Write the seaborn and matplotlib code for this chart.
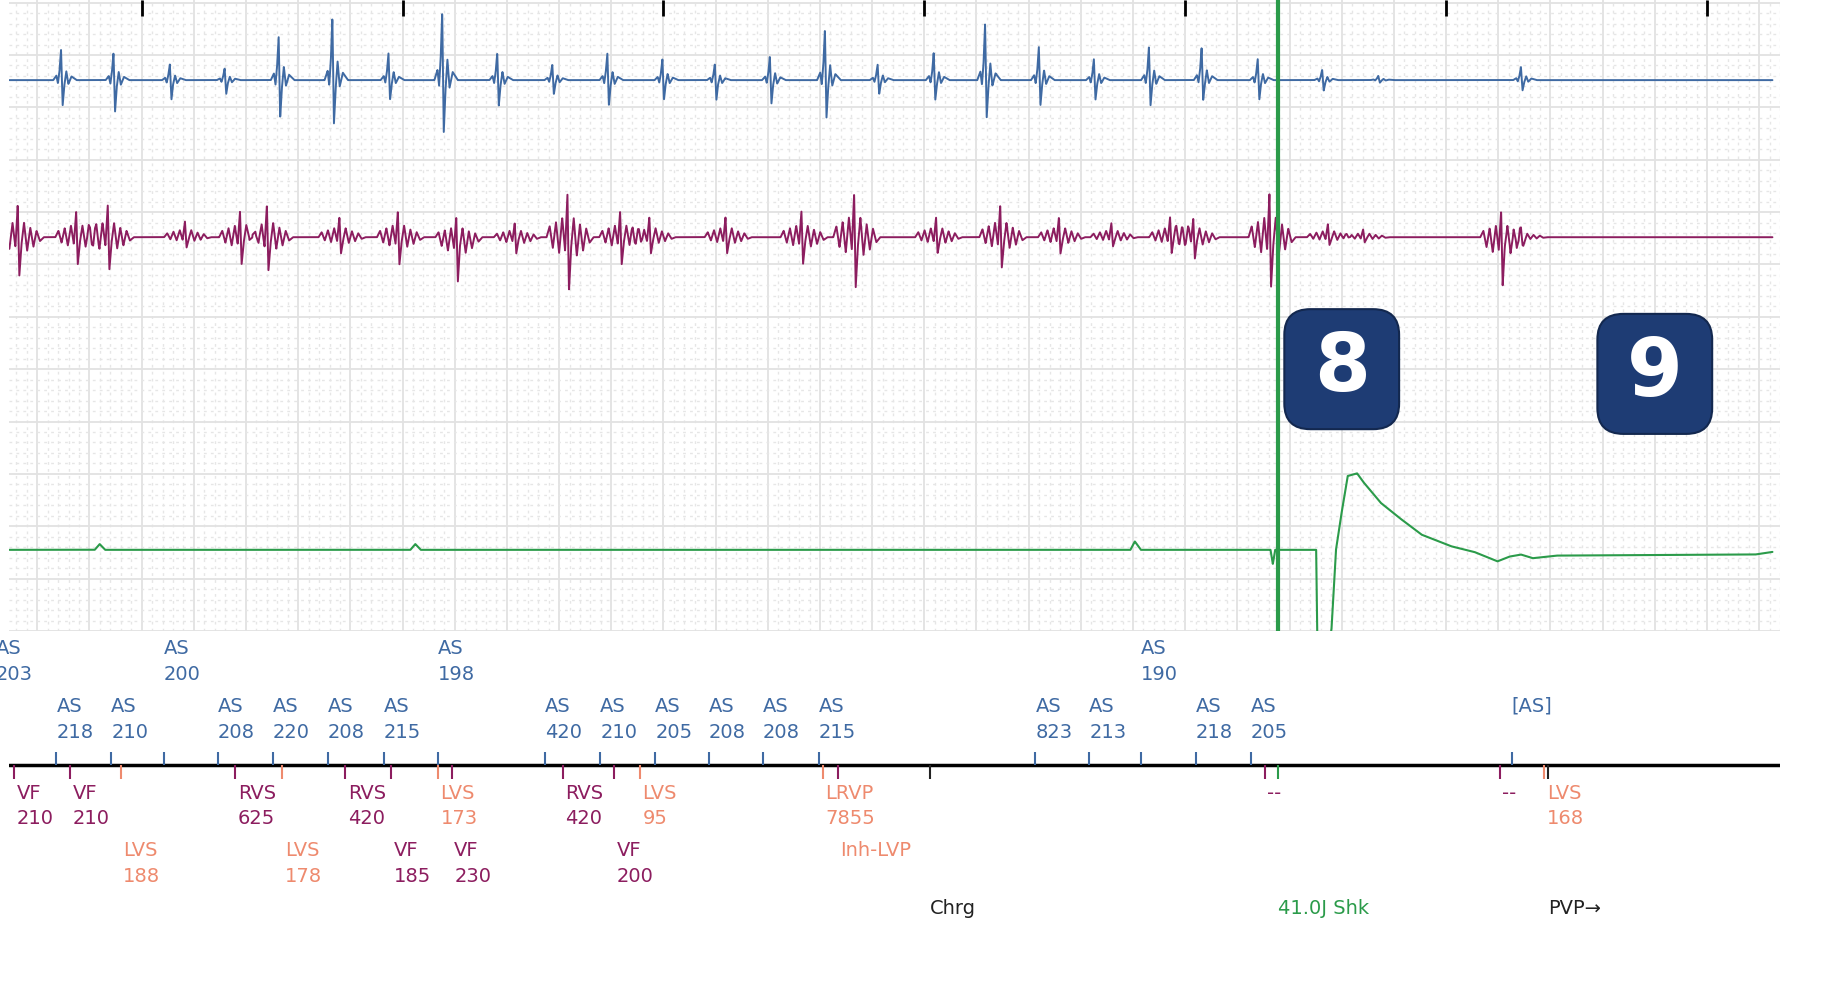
import numpy as np
import matplotlib
matplotlib.use("Agg")
import matplotlib.pyplot as plt
import seaborn as sns
from matplotlib.patches import FancyBboxPatch

sns.set_theme(style="white")
plt.rcParams['font.family'] = ['DejaVu Sans']

# ---------------- data ----------------
XLIM = (0.493, 7.251)
second_ticks = [1, 2, 3, 4, 5, 6, 7]

# atrial channel (blue): beat time (s), up amplitude, down amplitude
blue_t = [0.691, 0.892, 1.108, 1.318, 1.525, 1.731, 1.946, 2.152, 2.363, 2.574, 2.785, 2.996,
          3.197, 3.408, 3.619, 3.821, 4.036, 4.233, 4.439, 4.650, 4.861, 5.063, 5.278, 5.525,
          5.740, 6.287]
blue_up = [0.58, 0.52, 0.30, 0.22, 0.85, 1.19, 0.52, 1.30, 0.52, 0.30, 0.52, 0.40,
           0.30, 0.45, 0.96, 0.30, 0.52, 1.08, 0.63, 0.40, 0.63, 0.63, 0.40, 0.20,
           0.08, 0.25]
blue_dn = [0.49, 0.60, 0.38, 0.27, 0.72, 0.83, 0.38, 0.99, 0.49, 0.27, 0.49, 0.38,
           0.38, 0.45, 0.72, 0.27, 0.38, 0.72, 0.49, 0.38, 0.49, 0.38, 0.38, 0.20,
           0.05, 0.20]

# ventricular channel (purple)
purple_t = [0.525, 0.749, 0.870, 1.166, 1.377, 1.480, 1.758, 1.982, 2.206, 2.430, 2.632, 2.834,
            2.946, 3.238, 3.529, 3.731, 4.045, 4.291, 4.516, 4.717, 4.942, 5.031, 5.323, 5.547,
            5.682, 6.211, 6.287]
purple_up = [0.61, 0.49, 0.61, 0.30, 0.49, 0.61, 0.38, 0.49, 0.38, 0.27, 0.83, 0.49,
             0.38, 0.38, 0.49, 0.83, 0.38, 0.61, 0.38, 0.27, 0.38, 0.38, 0.83, 0.25,
             0.15, 0.49, 0.15]
purple_dn = [0.74, 0.52, 0.63, 0.20, 0.52, 0.63, 0.31, 0.52, 0.85, 0.31, 1.03, 0.52,
             0.31, 0.31, 0.52, 0.96, 0.31, 0.58, 0.31, 0.18, 0.31, 0.40, 0.96, 0.15,
             0.10, 0.96, 0.10]

# shock / far-field channel (green): time (s), deflection
green_t = [0.493, 0.82, 0.839, 0.86, 2.03, 2.049, 2.07, 4.79, 4.807, 4.83, 5.327, 5.336,
           5.345, 5.502, 5.507, 5.547, 5.561, 5.578, 5.596, 5.623, 5.659, 5.682, 5.749,
           5.816, 5.906, 6.018, 6.108, 6.197, 6.242, 6.287, 6.332, 6.422, 7.184, 7.251]
green_v = [0.0, 0.0, 0.11, 0.0, 0.0, 0.11, 0.0, 0.0, 0.16, 0.0, 0.0, -0.27,
           0.0, 0.0, -2.0, -2.0, -1.5, 0.0, 0.6, 1.41, 1.46, 1.30, 0.90,
           0.63, 0.29, 0.07, -0.04, -0.22, -0.13, -0.09, -0.16, -0.11, -0.09, -0.04]

shock_time = 5.354

# marker channel: atrial sense events above the line
as_t = [0.44, 0.673, 0.883, 1.085, 1.291, 1.502, 1.713, 1.928, 2.135, 2.547, 2.758, 2.969,
        3.175, 3.381, 3.596, 4.426, 4.632, 4.830, 5.040, 5.251, 6.251]
as_lbl = ["AS", "AS", "AS", "AS", "AS", "AS", "AS", "AS", "AS", "AS", "AS", "AS",
          "AS", "AS", "AS", "AS", "AS", "AS", "AS", "AS", "[AS]"]
as_val = ["203", "218", "210", "200", "208", "220", "208", "215", "198", "420", "210", "205",
          "208", "208", "215", "823", "213", "190", "218", "205", ""]
as_row = [0, 1, 1, 0, 1, 1, 1, 1, 0, 1, 1, 1, 1, 1, 1, 1, 1, 0, 1, 1, 1]

# ventricular events below the line
v_t = [0.511, 0.726, 0.919, 1.359, 1.538, 1.780, 1.955, 2.135, 2.188, 2.614, 2.812, 2.910,
       3.610, 3.668, 5.305, 6.206, 6.377]
v_lbl = ["VF", "VF", "LVS", "RVS", "LVS", "RVS", "VF", "LVS", "VF", "RVS", "VF", "LVS",
         "LRVP", "Inh-LVP", "--", "--", "LVS"]
v_val = ["210", "210", "188", "625", "178", "420", "185", "173", "230", "420", "200", "95",
         "7855", "", "", "", "168"]
v_row = [0, 0, 1, 0, 1, 0, 1, 0, 1, 0, 1, 0, 0, 1, 0, 0, 0]
v_kind = ["p", "p", "o", "p", "o", "p", "p", "o", "p", "p", "p", "o", "o", "o", "p", "p", "o"]
v_tick_kind = ["p", "p", "o", "p", "o", "p", "p", "o", "p", "p", "p", "o", "o", "p", "p", "p", "o"]

# device events (third row)
dev_t = [4.022, 5.354, 6.390]
dev_lbl = ["Chrg", "41.0J Shk", "PVP\u2192"]
dev_kind = ["k", "g", "k"]

badge_t = [5.60, 6.80]
badge_lbl = ["8", "9"]

# ---------------- style ----------------
BLUE = "#3f6aa3"
PURPLE = "#8c1d5f"
ORANGE = "#ee8a6e"
GREEN = "#2b9b4a"
NAVY = "#1e3c74"
COL = {"p": PURPLE, "o": ORANGE, "k": "#222222", "g": GREEN, "b": BLUE}

W, H = 1827, 1008
fig = plt.figure(figsize=(W / 100, H / 100), dpi=100)
fig.patch.set_facecolor("white")

ax = fig.add_axes([9.4 / W, 1 - 631 / H, (1780 - 9.4) / W, 631 / H])
axm = fig.add_axes([9.4 / W, 0.0, (1780 - 9.4) / W, (H - 631) / H], sharex=ax)

t = np.linspace(XLIM[0], XLIM[1], 14000)

def build(times, ups, dns, offs, shape_up, shape_dn):
    y = np.zeros_like(t)
    for bt, u, d in zip(times, ups, dns):
        shp = np.array(shape_up) * u + np.array(shape_dn) * d
        y += np.interp(t, bt + np.array(offs), shp, left=0, right=0)
    return y

b_offs = [-0.03, -0.018, -0.012, -0.006, 0.0, 0.006, 0.012, 0.02, 0.028, 0.04, 0.052, 0.06]
b_up = [0, 0.15, 0, 0.3, 1.0, 0, 0, 0.3, 0, 0.12, 0.05, 0]
b_dn = [0, 0, -0.12, 0, 0, -1.0, -0.25, 0, -0.15, 0, 0, 0]
blue = -1.48 + build(blue_t, blue_up, blue_dn, b_offs, b_up, b_dn)

p_offs = [-0.08, -0.068, -0.056, -0.044, -0.032, -0.02, -0.009, 0.0, 0.006, 0.014, 0.024,
          0.036, 0.048, 0.06, 0.072, 0.085, 0.1]
p_up = [0, 0.25, 0, 0.35, 0, 0.45, 0, 1.0, 0, 0, 0.45, 0, 0.3, 0, 0.2, 0, 0]
p_dn = [0, 0, -0.2, 0, -0.3, 0, -0.25, 0, -1.0, -0.2, 0, -0.35, 0, -0.25, 0, -0.1, 0]
purple = -4.48 + build(purple_t, purple_up, purple_dn, p_offs, p_up, p_dn)

green = -10.45 + np.interp(t, green_t, green_v)

sns.lineplot(x=t, y=blue, ax=ax, color=BLUE, lw=1.4)
sns.lineplot(x=t, y=purple, ax=ax, color=PURPLE, lw=1.4)
sns.lineplot(x=t, y=green, ax=ax, color=GREEN, lw=1.5)
ax.axvline(shock_time, color=GREEN, lw=3)

ax.set_xlim(*XLIM)
ax.set_ylim(-12.0, 0.05)
ax.set_xticks(np.arange(0.6, 7.3, 0.2))
ax.set_xticks(np.arange(0.52, 7.3, 0.04), minor=True)
ax.set_yticks(np.arange(-12, 0.1, 1.0))
ax.set_yticks(np.arange(-12, 0.1, 0.2), minor=True)
ax.grid(True, which="major", color="#e2e2e2", lw=1.3)
ax.grid(True, which="minor", color="#e6e6e6", lw=1.0, ls=(0, (2, 3)))
ax.tick_params(which="both", length=0, labelbottom=False, labelleft=False)
for s in ax.spines.values():
    s.set_visible(False)
ax.set_axisbelow(True)
ax.vlines(second_ticks, 0.05 - 0.3, 0.05, color="black", lw=2, clip_on=False)

for bt, lbl in zip(badge_t, badge_lbl):
    yc = -7.0 if lbl == "8" else -7.09
    box = FancyBboxPatch((bt - 0.18, yc - 0.95), 0.36, 1.9,
                         boxstyle="round,pad=0.04,rounding_size=0.1",
                         mutation_aspect=4.9, facecolor=NAVY, edgecolor="#13284f", lw=1.5, zorder=5)
    ax.add_patch(box)
    ax.text(bt, yc, lbl, color="white", fontsize=58, fontweight="bold",
            ha="center", va="center", zorder=6)

# ---------------- marker channel ----------------
axm.set_ylim(858 - 537, 0)
axm.axis("off")
LINE_Y = 651 - 537
axm.axhline(LINE_Y, color="black", lw=2.5, xmin=0, xmax=1)
fs = 14
dy = -4

for x, l, v, r in zip(as_t, as_lbl, as_val, as_row):
    axm.vlines(x, LINE_Y - 11, LINE_Y, color=BLUE, lw=1.5)
    y0 = (556 - 537 + dy) if r == 0 else (605 - 537 + dy)
    axm.text(x, y0, l, color=BLUE, fontsize=fs, ha="left", va="center")
    if v:
        axm.text(x, y0 + 22, v, color=BLUE, fontsize=fs, ha="left", va="center")

for x, l, v, r, k, tk in zip(v_t, v_lbl, v_val, v_row, v_kind, v_tick_kind):
    axm.vlines(x, LINE_Y, LINE_Y + 12, color=COL[tk], lw=1.5)
    y0 = (679 - 537 + dy) if r == 0 else (728 - 537 + dy)
    axm.text(x + 0.01, y0, l, color=COL[k], fontsize=fs, ha="left", va="center")
    if v:
        axm.text(x + 0.01, y0 + 22, v, color=COL[k], fontsize=fs, ha="left", va="center")

for x, l, k in zip(dev_t, dev_lbl, dev_kind):
    axm.vlines(x, LINE_Y, LINE_Y + 12, color=COL[k], lw=1.5)
    axm.text(x, 777 - 537 + dy, l, color=COL[k], fontsize=fs, ha="left", va="center")

fig.savefig("out.png", dpi=100, facecolor="white")
